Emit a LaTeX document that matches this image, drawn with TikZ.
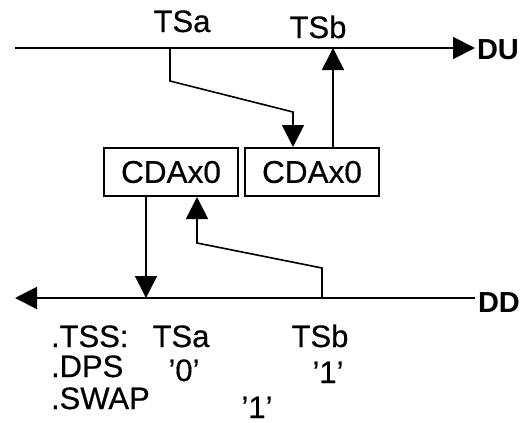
\documentclass[tikz,border=0pt]{standalone}
\usepackage{fontspec}
\setmainfont{Liberation Sans}[FakeBold=0.5]
\newfontfamily\headfont{Liberation Sans Bold}
\usetikzlibrary{arrows.meta}

\begin{document}
\begin{tikzpicture}[x=1pt,y=-1pt,>={Triangle[length=22pt,width=22pt]},line width=2pt,
		lbl/.style={inner sep=0pt,font=\fontsize{31}{34}\selectfont},
		axis/.style={inner sep=0pt,font=\fontsize{29}{34}\headfont},
		reg/.style={rectangle,draw=black,inner sep=0pt,minimum width=134pt,minimum height=48pt,font=\fontsize{31.5}{36}\selectfont},
		conn/.style={line width=1.6pt}]
		\useasboundingbox (0,0) rectangle (523,423);
		
		% registers
		\node[reg]  (cda1) at (171,172) {CDAx0};
		\node[reg]  (cda2) at (312,172) {CDAx0};
		
		% time lines
		\coordinate (duL) at (15,48);
		\coordinate (ddL) at (15,298);
		\node[axis,anchor=west,outer sep=2pt] (du) at (475,49.5) {DU};
		\node[axis,anchor=west,outer sep=3pt] (dd) at (475,302.5) {DD};
		\draw[->] (duL) -- (duL -| du.west);
		\draw[->] (ddL -| dd.west) -- (ddL);
		
		\node[lbl,anchor=base] (tsa) at (182,32) {TSa};
		\node[lbl,anchor=base] (tsb) at (318,38) {TSb};
		
		% TSa into right register, right register out at TSb
		\coordinate (tsaA) at (170,48);
		\coordinate (tsaB) at (170,81);
		\coordinate (tsaC) at (293,112);
		\coordinate (tsbA) at (333,48);
		\draw[conn,->] (tsaA) -- (tsaB) -- (tsaC) -- (tsaC |- cda2.north);
		\draw[conn,->] (tsbA |- cda2.north) -- (tsbA);
		
		% left register down to DD, DD back up into left register
		\coordinate (ddA) at (146,298);
		\coordinate (ddB) at (322,298);
		\coordinate (ddC) at (322,268);
		\coordinate (ddD) at (197,243);
		\draw[conn,->] (ddA |- cda1.south) -- (ddA);
		\draw[conn,->] (ddB) -- (ddC) -- (ddD) -- (ddD |- cda1.south);
		
		% fields
		\node[lbl,anchor=base west] (tss)   at (50,347)  {.TSS:};
		\node[lbl,anchor=base]      (tssa)  at (181,347) {TSa};
		\node[lbl,anchor=base]      (tssb)  at (320,347) {TSb};
		\node[lbl,anchor=base west] (dps)   at (50,377)  {.DPS};
		\node[lbl,anchor=base]      (dpsa)  at (184,381) {'0'};
		\node[lbl,anchor=base]      (dpsb)  at (328,383) {'1'};
		\node[lbl,anchor=base west] (swap)  at (50,409)  {.SWAP};
		\node[lbl,anchor=base]      (swapv) at (257,418) {'1'};
\end{tikzpicture}
\end{document}
